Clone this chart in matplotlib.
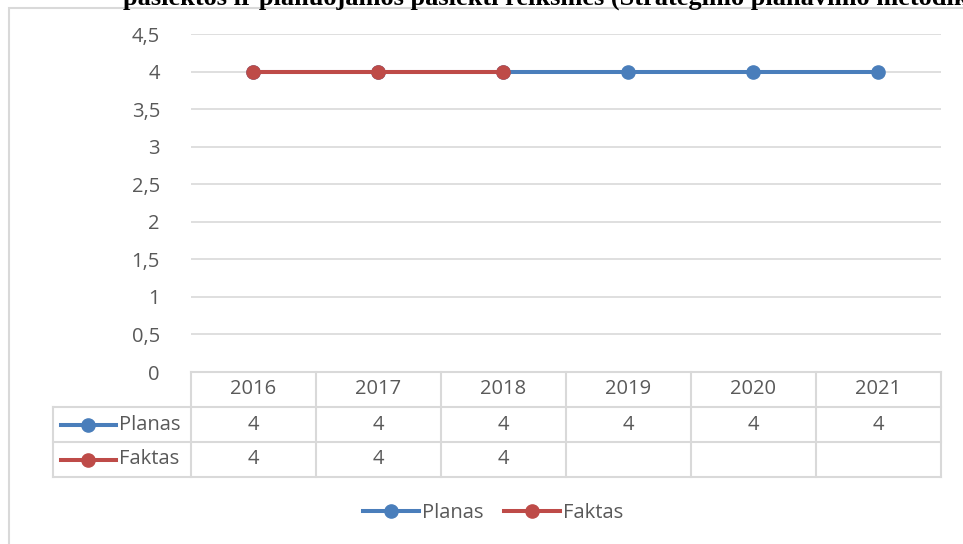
import numpy as np
import matplotlib
matplotlib.use('Agg')
import matplotlib.pyplot as plt
from matplotlib.lines import Line2D
from matplotlib.patches import Rectangle
from matplotlib.ticker import FuncFormatter

years = ['2016', '2017', '2018', '2019', '2020', '2021']
planas = [4, 4, 4, 4, 4, 4]
faktas = [4, 4, 4, None, None, None]
title = 'pasiektos ir planuojamos pasiekti reikšmės (Strateginio planavimo metodikos'

blue = '#4a7ebb'
red = '#be4b48'
grey = '#595959'
grid_c = '#d9d9d9'

plt.rcParams['font.family'] = ['Open Sans', 'DejaVu Sans']
fs = 14.5

W, H = 963, 544
fig = plt.figure(figsize=(W / 100, H / 100), dpi=100)

# chart frame (cut off on the right / bottom)
fig.patches.append(Rectangle((9 / W, -0.1), 1.2, 1 - 8 / H + 0.1, transform=fig.transFigure,
                             fill=False, edgecolor=grid_c, linewidth=1.5))
fig.text(123 / W, 1 - 5 / H, title, family='Liberation Serif', weight='bold',
         fontsize=19, va='baseline', ha='left')

x0, x1 = 190.5, 941
ax = fig.add_axes([x0 / W, 1 - 372 / H, (x1 - x0) / W, (372 - 34) / H])
x = np.arange(len(years))
f = np.array([np.nan if v is None else v for v in faktas], dtype=float)
ax.plot(x, planas, color=blue, lw=2.9, marker='o', ms=9.5, zorder=3)
ax.plot(x, f, color=red, lw=2.9, marker='o', ms=9.5, zorder=4)
ax.set_xlim(-0.5, len(years) - 0.5)
ax.set_ylim(0, 4.5)
ax.set_yticks(np.arange(0, 4.51, 0.5))
ax.yaxis.set_major_formatter(FuncFormatter(lambda v, p: ('%g' % v).replace('.', ',')))
ax.tick_params(axis='y', length=0, pad=22, labelsize=fs, labelcolor=grey)
ax.set_xticks([])
ax.grid(axis='y', color=grid_c, lw=1.2)
ax.set_axisbelow(True)
for s in ax.spines.values():
    s.set_visible(False)

# data table under the axis
tab = fig.add_axes([x0 / W, 1 - 477 / H, (x1 - x0) / W, (477 - 372) / H])
tab.set_xlim(-0.5, len(years) - 0.5)
tab.set_ylim(3, 0)
tab.axis('off')
cw = (x1 - x0) / len(years)
xl = -0.5 - (x0 - 53) / cw
lk = dict(color=grid_c, lw=1.5, clip_on=False, solid_capstyle='projecting')
tab.plot([-0.5, len(years) - 0.5], [0, 0], **lk)
for r in [1, 2, 3]:
    tab.plot([xl, len(years) - 0.5], [r, r], **lk)
tab.plot([xl, xl], [1, 3], **lk)
for k in range(len(years) + 1):
    tab.plot([k - 0.5, k - 0.5], [0, 3], **lk)
for i, y in enumerate(years):
    tab.text(i, 0.5, y, ha='center', va='center', fontsize=fs, color=grey)
for r, (name, vals, c) in enumerate([('Planas', planas, blue), ('Faktas', faktas, red)], start=1):
    tab.plot([xl + 0.06, xl + 0.5], [r + 0.5, r + 0.5], color=c, lw=2.9, clip_on=False)
    tab.plot([xl + 0.28], [r + 0.5], color=c, marker='o', ms=9.5, clip_on=False)
    tab.text(xl + 0.53, r + 0.5, name, ha='left', va='center', fontsize=fs, color=grey)
    for i, v in enumerate(vals):
        if v is not None:
            tab.text(i, r + 0.5, '%g' % v, ha='center', va='center', fontsize=fs, color=grey)

handles = [Line2D([], [], color=blue, lw=2.9, marker='o', ms=9.5),
           Line2D([], [], color=red, lw=2.9, marker='o', ms=9.5)]
fig.legend(handles, ['Planas', 'Faktas'], loc='center', bbox_to_anchor=(493 / W, 1 - 513 / H),
           ncol=2, frameon=False, fontsize=fs, labelcolor=grey, handlelength=2.8,
           handletextpad=0.15, columnspacing=1.0)

fig.savefig('out.png', dpi=100)
